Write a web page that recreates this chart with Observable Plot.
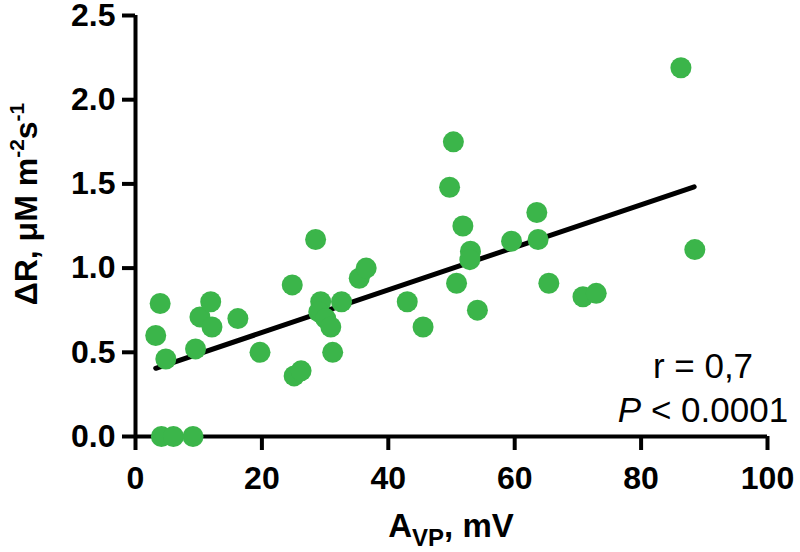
<!DOCTYPE html>
<html><head><meta charset="utf-8">
<script src="https://cdn.jsdelivr.net/npm/d3@7"></script>
<script src="https://cdn.jsdelivr.net/npm/@observablehq/plot@0.6"></script>
<style>body{margin:0;background:#fff} svg{display:block}</style>
</head><body><div id="chart"></div>
<script>
// A_VP, mV
const avp = [3.2, 3.9, 4.8, 4.1, 6.0, 9.1, 9.5, 10.2, 11.9, 12.1, 16.2, 19.7, 24.8, 25.1, 26.2, 28.5, 29.3, 29.0, 30.1, 30.9, 31.2, 32.6, 35.4, 36.5, 43.0, 45.5, 49.7, 50.3, 50.8, 51.8, 53.0, 52.9, 54.1, 59.5, 63.5, 63.7, 65.4, 70.8, 72.9, 86.3, 88.5];
// ΔR, μM m-2 s-1
const dR  = [0.60, 0.79, 0.46, 0.00, 0.00, 0.00, 0.52, 0.71, 0.80, 0.65, 0.70, 0.50, 0.90, 0.36, 0.39, 1.17, 0.80, 0.74, 0.70, 0.65, 0.50, 0.80, 0.94, 1.00, 0.80, 0.65, 1.48, 1.75, 0.91, 1.25, 1.10, 1.05, 0.75, 1.16, 1.33, 1.17, 0.91, 0.83, 0.85, 2.19, 1.11];
// regression line endpoints
const fitX = [3.2, 88.4];
const fitY = [0.405, 1.483];
const xTicks = [0, 20, 40, 60, 80, 100];
const yTicks = [0, 0.5, 1.0, 1.5, 2.0, 2.5];
const statR = "r = 0,7";
const statP = ["P", " < 0.0001"];

const points = avp.map((x, i) => ({x, y: dR[i]}));
const fit = fitX.map((x, i) => ({x, y: fitY[i]}));

const W = 800, H = 552, ML = 135, MR = 33, MT = 15, MB = 116;
const font = "'Liberation Sans', Arial, Helvetica, sans-serif";

const chart = Plot.plot({
  width: W, height: H,
  marginLeft: ML, marginRight: MR, marginTop: MT, marginBottom: MB,
  style: {fontFamily: font, background: "#fff", overflow: "visible", color: "#000"},
  x: {domain: [0, 100]},
  y: {domain: [0, 2.5]},
  marks: [
    Plot.axisX({ticks: xTicks, tickSize: 14, tickPadding: 16, strokeWidth: 4, fontSize: 32, fontWeight: "bold", label: null, tickFormat: d => String(d)}),
    Plot.axisY({ticks: yTicks, tickSize: 13, tickPadding: 7, strokeWidth: 4, fontSize: 32, fontWeight: "bold", label: null, tickFormat: d3.format(".1f")}),
    Plot.ruleY([0], {strokeWidth: 4, stroke: "#000"}),
    Plot.ruleX([0], {strokeWidth: 4, stroke: "#000"}),
    Plot.line(fit, {x: "x", y: "y", strokeWidth: 5, stroke: "#000"}),
    Plot.dot(points, {x: "x", y: "y", r: 10.5, fill: "#3BB54A", stroke: "none"})
  ]
});
document.getElementById("chart").appendChild(chart);

const svg = d3.select(chart);
const cx = (ML + (W - MR)) / 2;

// x title
const xt = svg.append("text")
  .attr("x", cx).attr("y", 537)
  .attr("text-anchor", "middle")
  .attr("font-family", font).attr("font-weight", "bold").attr("font-size", 33).attr("fill", "#000");
xt.append("tspan").text("A");
xt.append("tspan").attr("font-size", 24).attr("dy", 9).text("VP");
xt.append("tspan").attr("dy", -9).text(", mV");

// y title
const yt = svg.append("text")
  .attr("transform", "translate(37,204) rotate(-90)")
  .attr("text-anchor", "middle")
  .attr("font-family", font).attr("font-weight", "bold").attr("font-size", 32).attr("fill", "#000");
yt.append("tspan").text("\u0394R, \u03bcM m");
yt.append("tspan").attr("font-size", 21).attr("dy", -13).text("-2");
yt.append("tspan").attr("dy", 13).text("s");
yt.append("tspan").attr("font-size", 21).attr("dy", -13).text("-1");

// statistics annotation
const sc = 703;
svg.append("text")
  .attr("x", sc).attr("y", 378).attr("text-anchor", "middle")
  .attr("font-family", font).attr("font-size", 35).attr("fill", "#000")
  .text(statR);
const pt = svg.append("text")
  .attr("x", sc).attr("y", 422).attr("text-anchor", "middle")
  .attr("font-family", font).attr("font-size", 35).attr("fill", "#000");
pt.append("tspan").attr("font-style", "italic").text(statP[0]);
pt.append("tspan").text(statP[1]);
</script>
</body></html>
